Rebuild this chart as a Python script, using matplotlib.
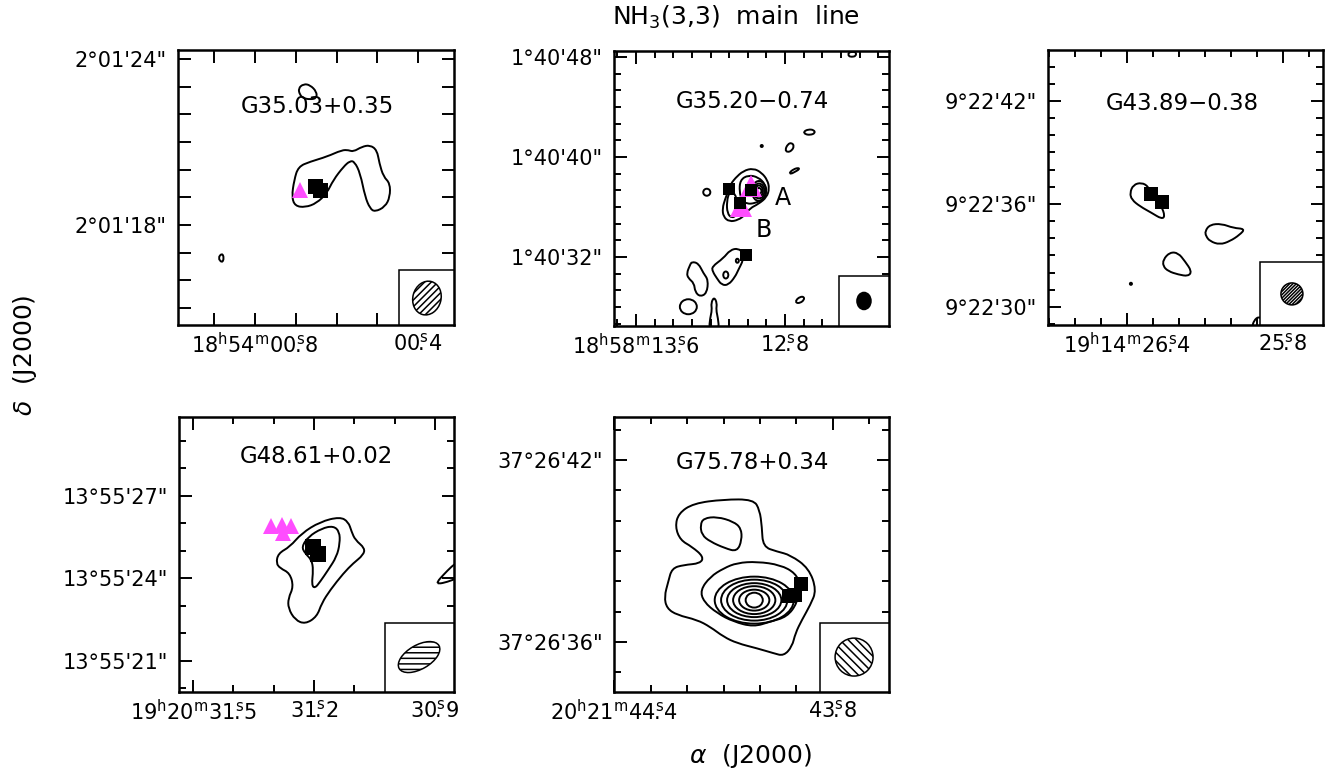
import re
import numpy as np
import matplotlib
matplotlib.use("Agg")
import matplotlib.pyplot as plt
from matplotlib.patches import Ellipse, Rectangle, PathPatch
from matplotlib.path import Path
from matplotlib.ticker import MultipleLocator

plt.rcParams['font.family'] = ['DejaVu Sans']
plt.rcParams['mathtext.fontset'] = 'dejavusans'
plt.rcParams['hatch.linewidth'] = 1.1

MAGENTA = '#ff4dff'

# ---------------------------------------------------------------- G35.03+0.35
# RA in seconds of 18h54m, Dec in arcsec of +2d01'
G3503_RA_LIM = (0.989, 0.312)
G3503_DEC_LIM = (14.39, 24.325)
G3503_RA_TICKS = [0.8, 0.4]
G3503_RA_LABELS = ["18h54m00.8s", "00.4s"]
G3503_DEC_TICKS = [24, 18]
G3503_DEC_LABELS = ["2°01'24\"", "2°01'18\""]
G3503_MAIN_RA = [0.710, 0.704, 0.694, 0.665, 0.624, 0.587, 0.571, 0.559, 0.538, 0.518,
                 0.501, 0.495, 0.485, 0.469, 0.469, 0.481, 0.506, 0.518, 0.530, 0.542,
                 0.556, 0.567, 0.583, 0.608, 0.624, 0.649, 0.677, 0.702]
G3503_MAIN_DEC = [19.02, 19.63, 20.11, 20.29, 20.47, 20.71, 20.71, 20.65, 20.83, 20.89,
                  20.71, 20.23, 19.75, 19.51, 19.02, 18.66, 18.48, 18.60, 19.02, 19.87,
                  20.29, 20.32, 20.11, 19.63, 19.15, 18.79, 18.64, 18.69]
G3503_NORTH_RA = [0.690, 0.694, 0.681, 0.665, 0.649, 0.649, 0.665, 0.681]
G3503_NORTH_DEC = [22.70, 22.94, 23.10, 23.06, 22.82, 22.58, 22.54, 22.58]
G3503_WEST_RA = [0.891, 0.881, 0.876, 0.881]
G3503_WEST_DEC = [16.81, 16.99, 16.81, 16.63]
G3503_SQ_RA = [0.654, 0.640]
G3503_SQ_DEC = [19.41, 19.27]
G3503_TRI_RA = [0.690]
G3503_TRI_DEC = [19.27]

# ---------------------------------------------------------------- G35.20-0.74
# RA in seconds of 18h58m, Dec in arcsec of +1d40'
G3520_RA_LIM = (13.718, 12.242)
G3520_DEC_LIM = (26.48, 48.48)
G3520_RA_TICKS = [13.6, 12.8]
G3520_RA_LABELS = ["18h58m13.6s", "12.8s"]
G3520_DEC_TICKS = [48, 40, 32]
G3520_DEC_LABELS = ["1°40'48\"", "1°40'40\"", "1°40'32\""]
G3520_OUTER_RA = [13.068, 13.024, 12.970, 12.925, 12.895, 12.884, 12.898, 12.943, 12.988,
                  13.015, 13.051, 13.099, 13.131, 13.136, 13.122, 13.104, 13.091]
G3520_OUTER_DEC = [38.30, 38.90, 39.10, 38.74, 38.16, 37.50, 36.78, 36.24, 35.90,
                   35.36, 34.96, 34.82, 35.22, 35.90, 36.62, 37.30, 37.84]
G3520_A_RA = [13.041, 12.997, 12.943, 12.907, 12.898, 12.916, 12.961, 13.005, 13.032, 13.045]
G3520_A_DEC = [38.16, 38.56, 38.38, 37.84, 37.22, 36.62, 36.30, 36.24, 36.56, 37.22]
G3520_B_RA = [13.099, 13.068, 13.056, 13.059, 13.086, 13.110, 13.113]
G3520_B_DEC = [37.22, 37.10, 36.30, 35.36, 35.10, 35.50, 36.42]
G3520_CLUMP_RA = [13.193, 13.131, 13.095, 13.051, 13.024, 13.024, 13.051, 13.068, 13.104,
                  13.140, 13.166, 13.188]
G3520_CLUMP_DEC = [31.22, 31.90, 32.56, 32.70, 32.30, 31.76, 30.96, 30.42, 29.76,
                   29.76, 30.30, 30.82]
G3520_SW_RA = [13.301, 13.265, 13.238, 13.212, 13.220, 13.256, 13.283, 13.288, 13.319,
               13.328, 13.310]
G3520_SW_DEC = [31.62, 31.50, 30.70, 30.16, 29.10, 28.82, 29.22, 29.90, 30.30, 30.70, 31.36]
G3520_STEM_RA = [13.181, 13.165, 13.170, 13.160, 13.154, 13.208, 13.202, 13.192, 13.197]
G3520_STEM_DEC = [28.80, 28.32, 27.76, 27.12, 26.20, 26.20, 27.12, 27.76, 28.32]
G3520_NE1_RA = [12.800, 12.785, 12.764, 12.751, 12.764, 12.787]
G3520_NE1_DEC = [40.56, 41.04, 41.14, 40.88, 40.50, 40.38]
G3520_NE2_RA = [12.701, 12.675, 12.644, 12.639, 12.665, 12.692]
G3520_NE2_DEC = [42.02, 42.22, 42.16, 41.90, 41.76, 41.82]
G3520_NE3_RA = [12.777, 12.755, 12.728, 12.723, 12.746, 12.769]
G3520_NE3_DEC = [38.74, 39.02, 39.14, 39.02, 38.82, 38.64]
G3520_TOP_RA = [12.460, 12.442, 12.419, 12.419, 12.442, 12.460]
G3520_TOP_DEC = [48.34, 48.42, 48.40, 48.08, 48.00, 48.08]
G3520_SE_RA = [12.741, 12.719, 12.698, 12.698, 12.719, 12.741]
G3520_SE_DEC = [28.56, 28.82, 28.82, 28.56, 28.32, 28.32]
# compact contours: centre RA, centre Dec, RA extent (s), Dec extent (")
G3520_KNOT_RA = [13.220, 12.925, 13.118, 13.056, 13.319]
G3520_KNOT_DEC = [37.18, 40.88, 30.56, 31.70, 28.02]
G3520_KNOT_W = [0.038, 0.011, 0.027, 0.016, 0.091]
G3520_KNOT_H = [0.56, 0.16, 0.56, 0.32, 1.20]
# nested contours of the peak next to core A
G3520_PEAK = (12.940, 37.28)
G3520_PEAK_W = [0.075, 0.059, 0.043, 0.027]
G3520_PEAK_H = [1.60, 1.20, 0.88, 0.48]
G3520_SQ_RA = [13.099, 13.041, 12.982, 13.009]
G3520_SQ_DEC = [37.44, 36.34, 37.36, 32.16]
G3520_TRI_RA = [12.984, 13.038]
G3520_TRI_DEC = [37.68, 36.10]
G3520_CORE_NAMES = ["A", "B"]
G3520_CORE_RA = [12.809, 12.916]
G3520_CORE_DEC = [36.70, 34.16]

# ---------------------------------------------------------------- G43.89-0.38
# RA in seconds of 19h14m, Dec in arcsec of +9d22'
G4389_RA_LIM = (26.704, 25.646)
G4389_DEC_LIM = (28.95, 44.97)
G4389_RA_TICKS = [26.4, 25.8]
G4389_RA_LABELS = ["19h14m26.4s", "25.8s"]
G4389_DEC_TICKS = [42, 36, 30]
G4389_DEC_LABELS = ["9°22'42\"", "9°22'36\"", "9°22'30\""]
G4389_C1_RA = [26.389, 26.376, 26.344, 26.318, 26.299, 26.267, 26.254, 26.267, 26.305, 26.350, 26.382]
G4389_C1_DEC = [36.64, 37.12, 37.25, 37.02, 36.44, 35.86, 35.28, 35.13, 35.48, 35.86, 36.25]
G4389_C2_RA = [26.100, 26.081, 26.036, 25.991, 25.946, 25.966, 26.004, 26.043, 26.081, 26.096]
G4389_C2_DEC = [34.41, 34.80, 34.85, 34.60, 34.55, 34.21, 33.83, 33.63, 33.83, 34.12]
G4389_C3_RA = [26.261, 26.235, 26.203, 26.177, 26.151, 26.164, 26.203, 26.241, 26.261]
G4389_C3_DEC = [32.76, 33.19, 33.15, 32.66, 32.08, 31.79, 31.89, 32.08, 32.37]
G4389_EDGE_RA = [25.919, 25.912, 25.893, 25.881, 25.881]
G4389_EDGE_DEC = [28.80, 29.21, 29.45, 29.27, 28.80]
G4389_KNOT_RA = [26.385]
G4389_KNOT_DEC = [31.35]
G4389_KNOT_W = [0.008]
G4389_KNOT_H = [0.12]
G4389_SQ_RA = [26.309, 26.267]
G4389_SQ_DEC = [36.60, 36.12]

# ---------------------------------------------------------------- G48.61+0.02
# RA in seconds of 19h20m, Dec in arcsec of +13d55'
G4861_RA_LIM = (31.535, 30.853)
G4861_DEC_LIM = (19.87, 29.87)
G4861_RA_TICKS = [31.5, 31.2, 30.9]
G4861_RA_LABELS = ["19h20m31.5s", "31.2s", "30.9s"]
G4861_DEC_TICKS = [27, 24, 21]
G4861_DEC_LABELS = ["13°55'27\"", "13°55'24\"", "13°55'21\""]
G4861_OUTER_RA = [31.294, 31.289, 31.260, 31.231, 31.185, 31.136, 31.115, 31.107, 31.098,
                  31.074, 31.078, 31.103, 31.127, 31.160, 31.181, 31.193, 31.222, 31.247,
                  31.264, 31.264, 31.251, 31.260, 31.284]
G4861_OUTER_DEC = [24.55, 24.91, 25.15, 25.64, 26.06, 26.24, 26.06, 25.70, 25.40,
                   25.10, 24.85, 24.55, 24.19, 23.58, 23.10, 22.61, 22.34, 22.49,
                   22.91, 23.28, 23.70, 24.19, 24.37]
G4861_INNER_RA = [31.231, 31.214, 31.181, 31.152, 31.137, 31.136, 31.144, 31.165, 31.185,
                  31.198, 31.206, 31.202, 31.206, 31.222]
G4861_INNER_DEC = [25.15, 25.52, 25.82, 25.91, 25.70, 25.28, 24.79, 24.31, 23.88,
                   23.64, 23.76, 24.31, 24.67, 24.91]
G4861_EDGE_RA = [30.895, 30.880, 30.858, 30.843, 30.843, 30.870, 30.892]
G4861_EDGE_DEC = [23.87, 24.12, 24.45, 24.60, 24.02, 23.87, 23.80]
G4861_SQ_RA = [31.202, 31.191]
G4861_SQ_DEC = [25.15, 24.89]
G4861_TRI_RA = [31.308, 31.280, 31.257, 31.276]
G4861_TRI_DEC = [25.91, 25.94, 25.91, 25.66]

# ---------------------------------------------------------------- G75.78+0.34
# RA in seconds of 20h21m, Dec in arcsec of +37d26'
G7578_RA_LIM = (44.401, 43.646)
G7578_DEC_LIM = (34.351, 43.418)
G7578_RA_TICKS = [44.4, 43.8]
G7578_RA_LABELS = ["20h21m44.4s", "43.8s"]
G7578_DEC_TICKS = [42, 36]
G7578_DEC_LABELS = ["37°26'42\"", "37°26'36\""]
G7578_OUTER_RA = [44.233, 44.224, 44.183, 44.100, 44.018, 44.001, 43.995, 43.992, 43.953,
                  43.917, 43.866, 43.845, 43.862, 43.885, 43.903, 43.912, 43.935, 43.963,
                  44.008, 44.063, 44.100, 44.137, 44.173, 44.228, 44.256, 44.263, 44.252,
                  44.242, 44.210, 44.164, 44.155, 44.187, 44.219]
G7578_OUTER_DEC = [39.80, 40.24, 40.57, 40.70, 40.70, 40.35, 39.80, 39.14, 38.98,
                   38.87, 38.43, 37.71, 37.22, 36.73, 36.29, 35.85, 35.54, 35.63,
                   35.79, 35.96, 36.17, 36.50, 36.73, 36.89, 37.11, 37.49, 37.99,
                   38.43, 38.54, 38.59, 38.81, 39.14, 39.36]
G7578_NORTH_RA = [44.164, 44.155, 44.118, 44.073, 44.052, 44.050, 44.063, 44.096, 44.137, 44.160]
G7578_NORTH_DEC = [39.86, 40.08, 40.13, 39.97, 39.75, 39.36, 38.98, 39.09, 39.31, 39.53]
G7578_SECOND_RA = [44.164, 44.137, 44.100, 44.063, 44.008, 43.944, 43.903, 43.889, 43.898,
                   43.926, 43.972, 44.018, 44.073, 44.118, 44.155]
G7578_SECOND_DEC = [37.71, 38.15, 38.43, 38.61, 38.65, 38.54, 38.27, 37.88, 37.28,
                    36.83, 36.67, 36.50, 36.67, 36.95, 37.33]
G7578_PEAK = (44.016, 37.38)
G7578_PEAK_W = [0.217, 0.182, 0.149, 0.116, 0.083, 0.047]
G7578_PEAK_H = [1.55, 1.35, 1.12, 0.92, 0.69, 0.49]
G7578_SQ_RA = [43.887, 43.903, 43.921]
G7578_SQ_DEC = [37.90, 37.55, 37.52]

SOURCE_NAMES = ["G35.03+0.35", "G35.20\u22120.74", "G43.89\u22120.38",
                "G48.61+0.02", "G75.78+0.34"]

PANELS = [
    dict(name=SOURCE_NAMES[0], ralim=G3503_RA_LIM, declim=G3503_DEC_LIM,
         rat=G3503_RA_TICKS, ral=G3503_RA_LABELS, dect=G3503_DEC_TICKS, decl=G3503_DEC_LABELS,
         ra_minor=0.1, dec_minor=1.0,
         contours=[(G3503_MAIN_RA, G3503_MAIN_DEC), (G3503_NORTH_RA, G3503_NORTH_DEC),
                   (G3503_WEST_RA, G3503_WEST_DEC)],
         knots=None, peak=None,
         sq=(G3503_SQ_RA, G3503_SQ_DEC), tri=(G3503_TRI_RA, G3503_TRI_DEC)),
    dict(name=SOURCE_NAMES[1], ralim=G3520_RA_LIM, declim=G3520_DEC_LIM,
         rat=G3520_RA_TICKS, ral=G3520_RA_LABELS, dect=G3520_DEC_TICKS, decl=G3520_DEC_LABELS,
         ra_minor=0.1, dec_minor=4.0 / 3.0,
         contours=[(G3520_OUTER_RA, G3520_OUTER_DEC), (G3520_A_RA, G3520_A_DEC),
                   (G3520_B_RA, G3520_B_DEC), (G3520_CLUMP_RA, G3520_CLUMP_DEC),
                   (G3520_SW_RA, G3520_SW_DEC), (G3520_STEM_RA, G3520_STEM_DEC),
                   (G3520_NE1_RA, G3520_NE1_DEC), (G3520_NE2_RA, G3520_NE2_DEC),
                   (G3520_NE3_RA, G3520_NE3_DEC), (G3520_TOP_RA, G3520_TOP_DEC),
                   (G3520_SE_RA, G3520_SE_DEC)],
         knots=(G3520_KNOT_RA, G3520_KNOT_DEC, G3520_KNOT_W, G3520_KNOT_H),
         peak=(G3520_PEAK, G3520_PEAK_W, G3520_PEAK_H),
         sq=(G3520_SQ_RA, G3520_SQ_DEC), tri=(G3520_TRI_RA, G3520_TRI_DEC)),
    dict(name=SOURCE_NAMES[2], ralim=G4389_RA_LIM, declim=G4389_DEC_LIM,
         rat=G4389_RA_TICKS, ral=G4389_RA_LABELS, dect=G4389_DEC_TICKS, decl=G4389_DEC_LABELS,
         ra_minor=0.1, dec_minor=1.0,
         contours=[(G4389_C1_RA, G4389_C1_DEC), (G4389_C2_RA, G4389_C2_DEC),
                   (G4389_C3_RA, G4389_C3_DEC), (G4389_EDGE_RA, G4389_EDGE_DEC)],
         knots=(G4389_KNOT_RA, G4389_KNOT_DEC, G4389_KNOT_W, G4389_KNOT_H), peak=None,
         sq=(G4389_SQ_RA, G4389_SQ_DEC), tri=None),
    dict(name=SOURCE_NAMES[3], ralim=G4861_RA_LIM, declim=G4861_DEC_LIM,
         rat=G4861_RA_TICKS, ral=G4861_RA_LABELS, dect=G4861_DEC_TICKS, decl=G4861_DEC_LABELS,
         ra_minor=0.1, dec_minor=1.0,
         contours=[(G4861_OUTER_RA, G4861_OUTER_DEC), (G4861_INNER_RA, G4861_INNER_DEC),
                   (G4861_EDGE_RA, G4861_EDGE_DEC)],
         knots=None, peak=None,
         sq=(G4861_SQ_RA, G4861_SQ_DEC), tri=(G4861_TRI_RA, G4861_TRI_DEC)),
    dict(name=SOURCE_NAMES[4], ralim=G7578_RA_LIM, declim=G7578_DEC_LIM,
         rat=G7578_RA_TICKS, ral=G7578_RA_LABELS, dect=G7578_DEC_TICKS, decl=G7578_DEC_LABELS,
         ra_minor=0.1, dec_minor=1.0,
         contours=[(G7578_OUTER_RA, G7578_OUTER_DEC), (G7578_NORTH_RA, G7578_NORTH_DEC),
                   (G7578_SECOND_RA, G7578_SECOND_DEC)],
         knots=None, peak=(G7578_PEAK, G7578_PEAK_W, G7578_PEAK_H),
         sq=(G7578_SQ_RA, G7578_SQ_DEC), tri=None),
]

# ---------------------------------------------------------------- layout / style
FIG_W, FIG_H = 1340, 778
AX_PIX = [(178, 50, 276, 275), (614, 51, 275, 275), (1048, 50, 275, 275),
          (179, 417, 275, 275), (614, 417, 275, 275)]
TITLE_POS = [(0.504, 0.793), (0.502, 0.815), (0.49, 0.807), (0.50, 0.855), (0.502, 0.833)]
SQ_SIZE = [10.8, 8.0, 9.5, 11.0, 10.0]
TRI_SIZE = [11.5, 16.0, 0, 12.0, 0]
MINOR_LEN = [9, 5, 5, 5, 5]
# beam inset: box size, ellipse centre, width, height, angle, hatch, fill
BEAM = [
    dict(box=0.20, c=(0.902, 0.098), w=0.102, h=0.124, ang=-15, hatch='/////', fc='white'),
    dict(box=0.182, c=(0.909, 0.091), w=0.051, h=0.062, ang=0, hatch=None, fc='black'),
    dict(box=0.229, c=(0.887, 0.113), w=0.080, h=0.080, ang=0, hatch='//////////', fc='white'),
    dict(box=0.251, c=(0.873, 0.127), w=0.167, h=0.087, ang=30, hatch='---', fc='white'),
    dict(box=0.251, c=(0.873, 0.127), w=0.138, h=0.138, ang=0, hatch='\\\\\\\\', fc='white'),
]
FS = 15
FS_NAME = 16.5
FS_BIG = 18
LW = 1.4


def ra_tex(label):
    """'18h54m00.8s' -> mathtext with h/m/s superscripts, seconds mark over the point."""
    m = re.match(r"(?:(\d+)h)?(?:(\d+)m)?(\d+)\.(\d+)s", label)
    hh, mm, ss, frac = m.groups()
    out = ""
    if hh:
        out += hh + r"$^{\rm h}$"
    if mm:
        out += mm + r"$^{\rm m}$"
    out += ss + r"$^{\rm s}\!\!\!.$" + frac
    return out


def smooth_outline(xs, ys):
    """Closed outline through the vertices' midpoints, rounded with quadratic curves."""
    p = np.column_stack([xs, ys]).astype(float)
    n = len(p)
    mids = 0.5 * (p + np.roll(p, -1, axis=0))
    verts = [mids[-1]]
    codes = [Path.MOVETO]
    for i in range(n):
        verts += [p[i], mids[i]]
        codes += [Path.CURVE3, Path.CURVE3]
    return Path(verts, codes)


fig = plt.figure(figsize=(FIG_W / 100, FIG_H / 100), dpi=100)

for k, P in enumerate(PANELS):
    x0, y0, w, h = AX_PIX[k]
    ax = fig.add_axes([x0 / FIG_W, 1 - (y0 + h) / FIG_H, w / FIG_W, h / FIG_H])
    ax.set_xlim(*P['ralim'])
    ax.set_ylim(*P['declim'])

    ax.set_xticks(P['rat'], [ra_tex(s) for s in P['ral']])
    ax.set_yticks(P['dect'], P['decl'])
    ax.xaxis.set_minor_locator(MultipleLocator(P['ra_minor']))
    ax.yaxis.set_minor_locator(MultipleLocator(P['dec_minor']))
    ax.tick_params(which='both', direction='in', top=True, right=True, width=1.4,
                   labelsize=FS)
    ax.tick_params(which='major', length=9)
    ax.tick_params(which='minor', length=MINOR_LEN[k])
    ax.tick_params(axis='y', which='major', pad=8)
    ax.tick_params(axis='x', which='major', pad=5)
    for sp in ax.spines.values():
        sp.set_linewidth(1.8)

    ax.text(*TITLE_POS[k], P['name'], transform=ax.transAxes, ha='center', va='center',
            fontsize=FS_NAME, zorder=1)

    for ra, dec in P['contours']:
        ax.add_patch(PathPatch(smooth_outline(ra, dec), fill=False, lw=LW,
                               edgecolor='black', joinstyle='round', zorder=2))
    if P['knots'] is not None:
        for ra, dec, ew, eh in zip(*P['knots']):
            ax.add_patch(Ellipse((ra, dec), ew, eh, fill=False, lw=LW,
                                 edgecolor='black', zorder=2))
    if P['peak'] is not None:
        (pra, pdec), pw, ph = P['peak']
        for ew, eh in zip(pw, ph):
            ax.add_patch(Ellipse((pra, pdec), ew, eh, fill=False, lw=LW,
                                 edgecolor='black', zorder=2))

    if P['tri'] is not None:
        ax.plot(P['tri'][0], P['tri'][1], linestyle='none', marker='^',
                markersize=TRI_SIZE[k], color=MAGENTA, markeredgewidth=0, zorder=3)
    ax.plot(P['sq'][0], P['sq'][1], linestyle='none', marker='s',
            markersize=SQ_SIZE[k], color='black', markeredgewidth=0, zorder=4)

    if k == 1:
        for name, ra, dec in zip(G3520_CORE_NAMES, G3520_CORE_RA, G3520_CORE_DEC):
            ax.text(ra, dec, name, ha='center', va='center', fontsize=17, zorder=4)

    b = BEAM[k]
    ax.add_patch(Rectangle((1 - b['box'], 0), b['box'], b['box'], transform=ax.transAxes,
                           facecolor='white', edgecolor='black', lw=1.1, zorder=5))
    ax.add_patch(Ellipse(b['c'], b['w'], b['h'], angle=b['ang'], transform=ax.transAxes,
                         facecolor=b['fc'], edgecolor='black', lw=1.1,
                         hatch=b['hatch'], zorder=6))

fig.text(0.5496, 0.977, r"NH$_3$(3,3)  main  line", ha='center', va='center', fontsize=FS_BIG)
fig.text(0.5597, 0.028, r"$\alpha$  (J2000)", ha='center', va='center', fontsize=FS_BIG)
fig.text(0.019, 0.543, r"$\delta$  (J2000)", ha='center', va='center', fontsize=FS_BIG,
         rotation=90)

fig.savefig("out.png", dpi=100)
